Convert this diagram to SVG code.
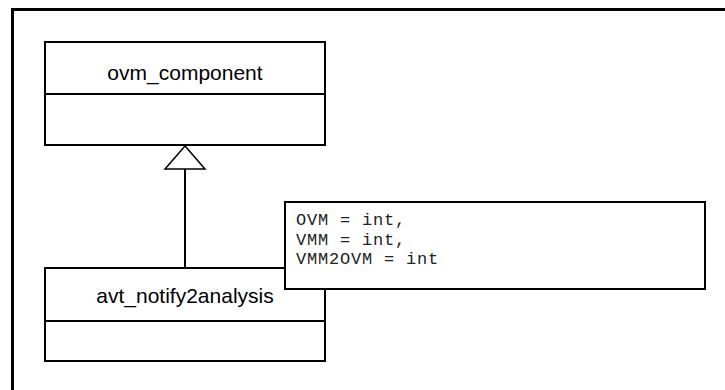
<svg xmlns="http://www.w3.org/2000/svg" width="725" height="390" viewBox="0 0 725 390">
<style>
.box{fill:#fff;stroke:#000;stroke-width:2}
.ln{stroke:#000;stroke-width:2;fill:none}
.cls{font-family:"Liberation Sans",Arial,sans-serif;font-size:21px;text-anchor:middle;fill:#000}
.mono{font-family:"Liberation Mono","Courier New",monospace;font-size:17px;letter-spacing:0.8px;fill:#222}
</style>
<rect width="725" height="390" fill="#fff"/>
<path d="M12.5 400 V9.5 H740" fill="none" stroke="#000" stroke-width="3"/>
<g id="ovm_component">
<rect class="box" x="45" y="42" width="280" height="103"/>
<line class="ln" x1="45" y1="94" x2="325" y2="94"/>
<text class="cls" x="185" y="79.5">ovm_component</text>
</g>
<g id="connectors">
<line class="ln" x1="185" y1="169" x2="185" y2="268"/>
<polygon points="185,146 165,169 205,169" fill="#fff" stroke="#000" stroke-width="1.5"/>
</g>
<g id="avt_notify2analysis">
<rect class="box" x="45" y="268" width="280" height="93"/>
<line class="ln" x1="45" y1="321" x2="325" y2="321"/>
<text class="cls" x="185" y="303">avt_notify2analysis</text>
</g>
<g id="note">
<rect class="box" x="285" y="202" width="420" height="87"/>
<text class="mono" x="296" y="225">OVM = int,</text>
<text class="mono" x="296" y="244.5">VMM = int,</text>
<text class="mono" x="296" y="264">VMM2OVM = int</text>
</g>
</svg>
